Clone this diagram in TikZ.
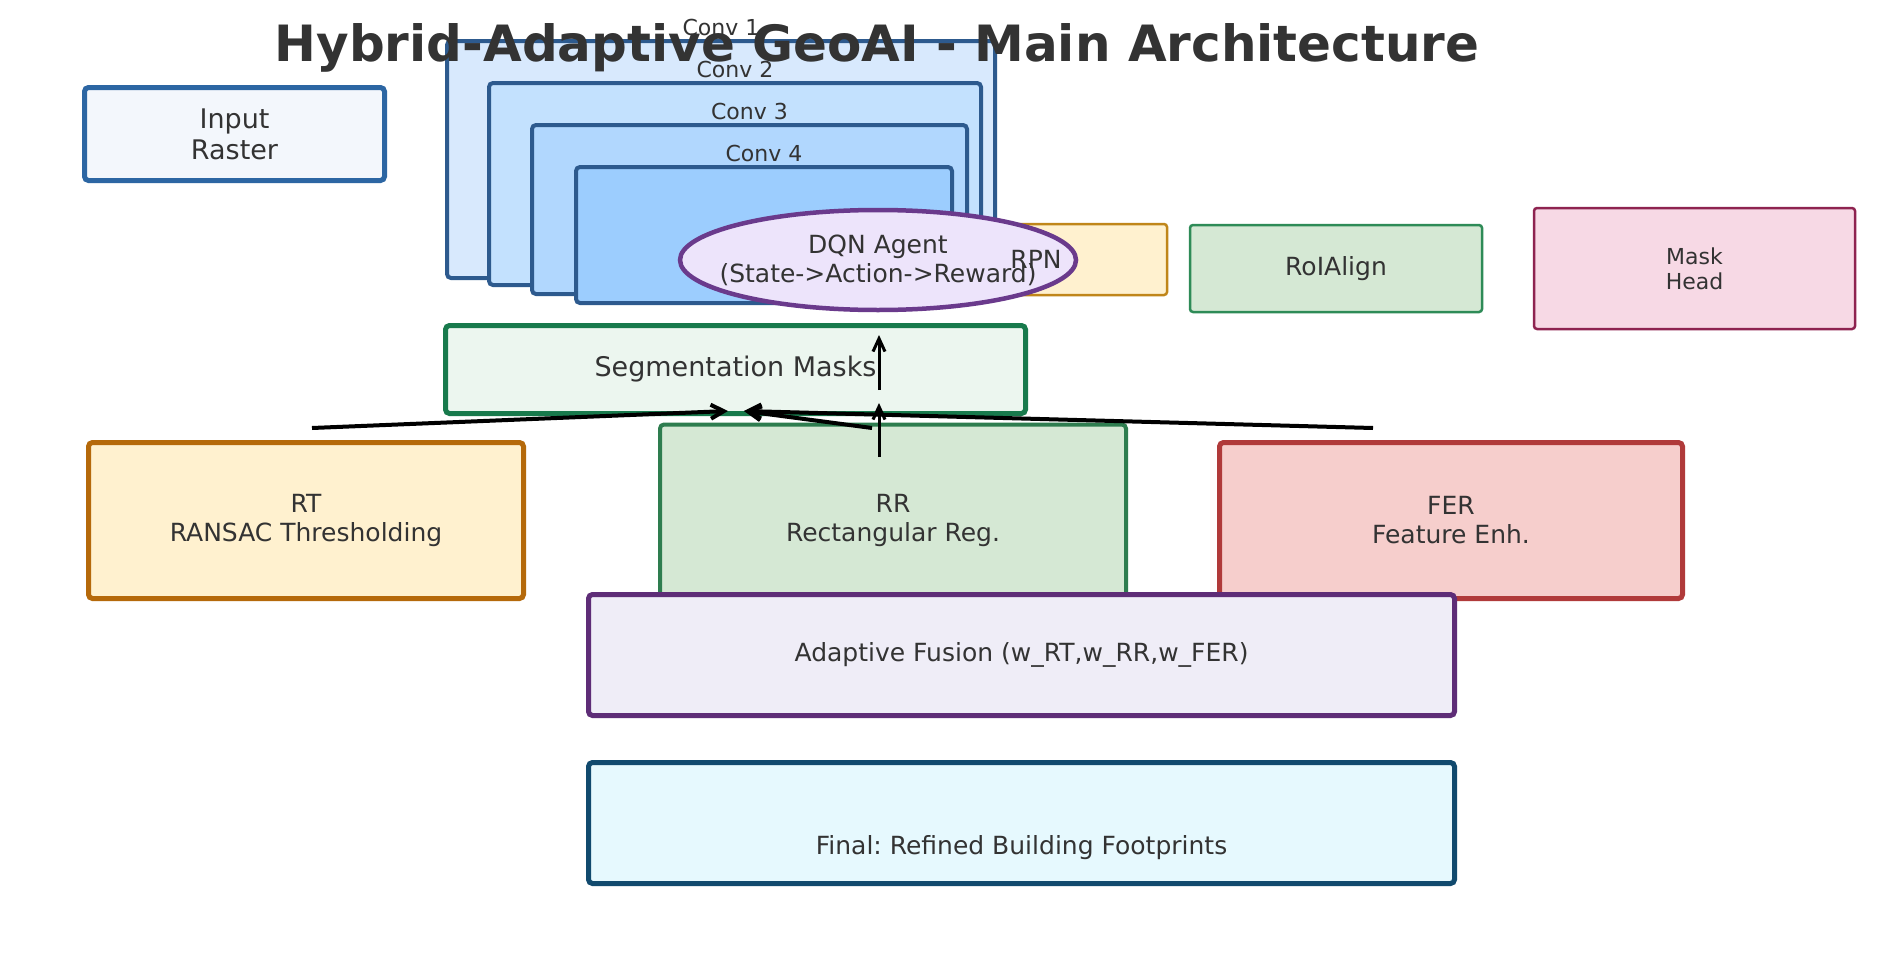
\documentclass[tikz,border=0pt]{standalone}
\usepackage{fontspec}
\setmainfont{DejaVu Sans}
\frenchspacing
\usetikzlibrary{shapes.geometric,arrows.meta}
\definecolor{tg}{HTML}{333333}
\definecolor{inF}{HTML}{F3F7FC}\definecolor{inD}{HTML}{2C66A3}
\definecolor{cvD}{HTML}{2D5A8E}
\definecolor{cvA}{HTML}{D8E9FD}\definecolor{cvB}{HTML}{C3E1FE}
\definecolor{cvC}{HTML}{B1D7FE}\definecolor{cvE}{HTML}{9CCDFE}
\definecolor{dqF}{HTML}{EDE4FB}\definecolor{dqD}{HTML}{6A3A8C}
\definecolor{rpF}{HTML}{FFF1CF}\definecolor{rpD}{HTML}{C0861A}
\definecolor{roF}{HTML}{D5E8D4}\definecolor{roD}{HTML}{2E8B57}
\definecolor{maF}{HTML}{F7D9E5}\definecolor{maD}{HTML}{8E2350}
\definecolor{seF}{HTML}{ECF6EF}\definecolor{seD}{HTML}{187A4C}
\definecolor{rtF}{HTML}{FFF1CF}\definecolor{rtD}{HTML}{B5690A}
\definecolor{rrF}{HTML}{D5E8D4}\definecolor{rrD}{HTML}{2E7D4F}
\definecolor{feF}{HTML}{F6CECC}\definecolor{feD}{HTML}{B03A3A}
\definecolor{fuF}{HTML}{EFEDF7}\definecolor{fuD}{HTML}{5E2D77}
\definecolor{fiF}{HTML}{E6F9FE}\definecolor{fiD}{HTML}{114A6E}
\tikzset{
  boxthick/.style={rectangle, draw, rounded corners=4pt, line width=5pt, inner sep=0pt},
  boxmid/.style={rectangle, draw, rounded corners=4pt, line width=4pt, inner sep=0pt},
  boxthin/.style={rectangle, draw, rounded corners=3pt, line width=2.5pt, inner sep=0pt},
  tbase/.style={text=tg, align=center, inner sep=0pt},
  txtA/.style={tbase, font=\fontsize{25}{29}\selectfont},
  txtB/.style={tbase, font=\fontsize{27}{31}\selectfont},
  txtC/.style={tbase, font=\fontsize{22}{25}\selectfont},
  ttl/.style={tbase, font=\bfseries\fontsize{50}{58}\selectfont},
  arr/.style={draw=black, line width=4pt, -{Straight Barb[length=13pt,width=14pt]}},
  arrv/.style={draw=black, line width=3pt, -{Straight Barb[length=13pt,width=12pt]}}
}
\begin{document}
\begin{tikzpicture}[x=1pt,y=-1pt]
\useasboundingbox[fill=white] (0,0) rectangle (1900,969);
% boxes
\node[boxthick, draw=inD, fill=inF, minimum width=300pt, minimum height=93pt] (input) at (234.5,134) {};
\node[boxmid, draw=cvD, fill=cvA, minimum width=548pt, minimum height=237pt] (conv1) at (721,159.5) {};
\node[boxmid, draw=cvD, fill=cvB, minimum width=492pt, minimum height=202pt] (conv2) at (735,184) {};
\node[boxmid, draw=cvD, fill=cvC, minimum width=435pt, minimum height=169pt] (conv3) at (749.5,209.5) {};
\node[boxmid, draw=cvD, fill=cvE, minimum width=376pt, minimum height=136pt] (conv4) at (764,235) {};
\node[boxthin, draw=rpD, fill=rpF, minimum width=262pt, minimum height=71pt] (rpn) at (1036,259.5) {};
\node[boxthin, draw=roD, fill=roF, minimum width=292pt, minimum height=87pt] (roi) at (1336,268.5) {};
\node[boxthin, draw=maD, fill=maF, minimum width=321pt, minimum height=121pt] (mask) at (1694.5,268.5) {};
\node[ellipse, draw=dqD, fill=dqF, line width=4.5pt, inner sep=0pt, minimum width=396pt, minimum height=100pt] (dqn) at (878,260) {};
\node[boxthick, draw=seD, fill=seF, minimum width=580pt, minimum height=88pt] (seg) at (735.5,369.5) {};
\node[boxthick, draw=rtD, fill=rtF, minimum width=435pt, minimum height=156pt] (rt) at (306,520.5) {};
\node[boxmid, draw=rrD, fill=rrF, minimum width=466pt, minimum height=192pt] (rr) at (893,520.5) {};
\node[boxthick, draw=feD, fill=feF, minimum width=463pt, minimum height=156pt] (fer) at (1451,520.5) {};
\node[boxthick, draw=fuD, fill=fuF, minimum width=866pt, minimum height=121pt] (fusion) at (1021.5,655) {};
\node[boxthick, draw=fiD, fill=fiF, minimum width=866pt, minimum height=121pt] (final) at (1021.5,823) {};
% connectors
\coordinate (a1s) at (879,390); \coordinate (a1e) at (879,335);
\coordinate (a2s) at (879,457); \coordinate (a2e) at (879,403);
\coordinate (a3s) at (312,428); \coordinate (a3e) at (728,411);
\coordinate (a4s) at (1373,428); \coordinate (a4e) at (744,411);
\coordinate (a5s) at (872,428);
\draw[arrv] (a1s) -- (a1e);
\draw[arrv] (a2s) -- (a2e);
\draw[arr] (a3s) -- (a3e);
\draw[arr] (a4s) -- (a4e);
\draw[arr] (a5s) -- (a4e);
% texts
\node[txtB] (inputT) at (input.center) {Input\\Raster};
\node[txtC, anchor=base] (c1T) at (721,35) {Conv 1};
\node[txtC, anchor=base] (c2T) at (735,77) {Conv 2};
\node[txtC, anchor=base] (c3T) at (749.5,119) {Conv 3};
\node[txtC, anchor=base] (c4T) at (764,161) {Conv 4};
\node[txtA] (dqnT) at (dqn.center) {DQN Agent\\(State->Action->Reward)};
\node[txtA] (rpnT) at (rpn.center) {RPN};
\node[txtA] (roiT) at (roi.center) {RoIAlign};
\node[txtC] (maskT) at (mask.center) {Mask\\Head};
\node[txtB] (segT) at (seg.center) {Segmentation Masks};
\node[txtA] (rtT) at (rt.center) {RT\\RANSAC Thresholding};
\node[txtA] (rrT) at (rr.center) {RR\\Rectangular Reg.};
\node[txtA] (ferT) at (fer.center) {FER\\Feature Enh.};
\node[txtA] (fusionT) at (fusion.center) {Adaptive Fusion (w\_RT,w\_RR,w\_FER)};
\node[txtA] (finalT) at (1021.5,848) {Final: Refined Building Footprints};
\node[ttl, anchor=base] (title) at (877,61) {Hybrid-Adaptive GeoAI - Main Architecture};
\end{tikzpicture}
\end{document}
